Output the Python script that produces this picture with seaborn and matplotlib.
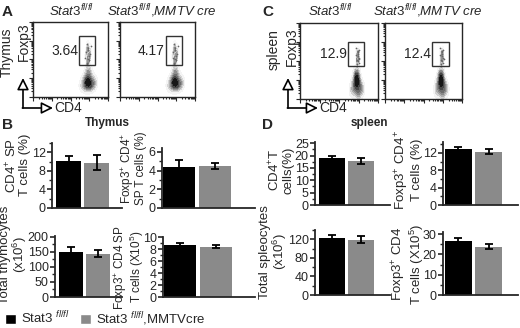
import numpy as np
import pandas as pd
import matplotlib
matplotlib.use("Agg")
import matplotlib.pyplot as plt
import seaborn as sns
from matplotlib.patches import Rectangle, Patch
from matplotlib.ticker import AutoMinorLocator

# ---- data ----
genotypes = ["Stat3 fl/fl", "Stat3 fl/fl,MMTVcre"]

# thymus (panel B)
thy_cd4_pct = [10.2, 9.8]
thy_cd4_pct_err = [1.1, 1.7]
thy_treg_pct = [4.4, 4.5]
thy_treg_pct_err = [0.7, 0.3]
thy_total = [150, 144]
thy_total_err = [17, 13]
thy_treg_num = [8.6, 8.4]
thy_treg_num_err = [0.4, 0.3]

# spleen (panel D)
spl_cd4_pct = [18.9, 17.8]
spl_cd4_pct_err = [0.8, 1.1]
spl_treg_pct = [12.9, 12.3]
spl_treg_pct_err = [0.4, 0.5]
spl_total = [122, 119]
spl_total_err = [7, 8]
spl_treg_num = [26.5, 23.7]
spl_treg_num_err = [1.5, 1.3]

# flow plots (panels A, C): gate frequencies and rough event clouds (log10 units)
thy_gate_freq = ["3.64", "4.17"]
spl_gate_freq = ["12.9", "12.4"]

thy_main_x = [2.6, 2.75, 2.9, 3.05, 3.2, 3.3, 2.7, 2.85, 2.95, 3.1, 3.25, 2.8,
              2.95, 3.1, 2.9, 3.0, 2.95, 2.85, 3.05, 2.95]
thy_main_y = [0.6, 0.5, 0.45, 0.5, 0.55, 0.7, 0.85, 0.8, 0.75, 0.8, 0.9, 1.05,
              1.0, 1.1, 1.3, 1.35, 1.55, 0.65, 0.6, 0.9]
thy_treg_x = [2.9, 2.95, 3.0, 2.85, 2.95, 3.05, 2.9, 2.8, 3.0, 2.92, 3.08, 2.88]
thy_treg_y = [1.8, 2.0, 2.2, 2.4, 2.6, 2.3, 2.85, 2.1, 1.95, 2.5, 2.7, 1.75]

spl_main_x = [2.65, 2.8, 2.95, 3.1, 3.2, 2.7, 2.85, 3.0, 3.15, 2.75, 2.9, 3.05,
              2.85, 3.0, 2.9, 2.95, 3.0, 2.9, 2.95, 2.85]
spl_main_y = [0.4, 0.35, 0.3, 0.4, 0.5, 0.65, 0.6, 0.6, 0.7, 0.9, 0.85, 0.9,
              1.1, 1.15, 1.35, 1.5, 0.2, 0.75, 1.0, 1.25]
spl_treg_x = [2.9, 2.95, 3.0, 2.88, 2.97, 3.03, 2.92, 2.95, 3.0, 2.85, 2.95, 2.98,
              3.05, 2.9]
spl_treg_y = [1.85, 2.0, 2.15, 2.3, 2.45, 2.6, 2.05, 2.25, 1.9, 2.7, 2.5, 2.35,
              2.1, 1.75]

BLACK = "#000000"
GRAY = "#8a8a8a"
W, H = 520, 328

sns.set_style("ticks")
plt.rcParams["font.family"] = ["Liberation Sans", "DejaVu Sans"]
plt.rcParams["mathtext.fontset"] = "custom"
plt.rcParams["mathtext.rm"] = "Liberation Sans"
plt.rcParams["mathtext.it"] = "Liberation Sans:italic"
plt.rcParams["mathtext.bf"] = "Liberation Sans:bold"


def px_rect(x0, y0, x1, y1):
    return [x0 / W, 1 - y1 / H, (x1 - x0) / W, (y1 - y0) / H]


def flow_plot(fig, rect, main_x, main_y, treg_x, treg_y, gate, freq, freq_x):
    ax = fig.add_axes(rect)
    sns.kdeplot(x=main_x, y=main_y, fill=True, cmap="Greys", levels=8,
                thresh=0.05, bw_adjust=1.0, ax=ax)
    sns.kdeplot(x=treg_x, y=treg_y, fill=True, cmap="Greys", levels=5,
                thresh=0.2, bw_adjust=1.0, alpha=0.35, ax=ax)
    sns.scatterplot(x=treg_x, y=treg_y, s=1.5, color="#666666", linewidth=0, ax=ax)
    ax.add_patch(Rectangle((gate[0], gate[1]), gate[2], gate[3],
                           fill=False, ec="#333333", lw=1))
    ax.text(freq_x, gate[1] + gate[3] / 2, freq, ha="right", va="center", fontsize=10)
    ax.set_xlim(0, 4)
    ax.set_ylim(0, 4)
    minors = [d + np.log10(m) for d in range(4) for m in range(2, 10)]
    ax.set_xticks(range(5))
    ax.set_yticks(range(5))
    ax.set_xticks(minors, minor=True)
    ax.set_yticks(minors, minor=True)
    ax.tick_params(which="both", direction="out", labelbottom=False, labelleft=False,
                   width=0.8)
    ax.tick_params(which="major", length=3)
    ax.tick_params(which="minor", length=1.5)
    ax.set_xlabel("")
    ax.set_ylabel("")
    for s in ax.spines.values():
        s.set_linewidth(1)
    return ax


def bar_plot(fig, rect, values, errs, ylim, yticks, xlim):
    ax = fig.add_axes(rect)
    df = pd.DataFrame({"genotype": genotypes, "value": values})
    sns.barplot(data=df, x="genotype", y="value", hue="genotype",
                palette=[BLACK, GRAY], width=0.9, errorbar=None,
                legend=False, linewidth=0, ax=ax)
    ax.errorbar(x=[0, 1], y=values, yerr=errs, fmt="none", ecolor="black",
                elinewidth=1.3, capsize=3, capthick=1.3)
    sns.despine(ax=ax)
    ax.set_xlim(*xlim)
    ax.set_ylim(*ylim)
    ax.set_yticks(yticks)
    ax.yaxis.set_minor_locator(AutoMinorLocator(2))
    ax.set_xticks([])
    ax.set_xlabel("")
    ax.set_ylabel("")
    ax.tick_params(axis="y", which="major", length=3.5, width=1.2, pad=1, labelsize=9)
    ax.tick_params(axis="y", which="minor", length=2, width=1)
    ax.spines["left"].set_linewidth(1.3)
    ax.spines["bottom"].set_linewidth(1.3)
    return ax


fig = plt.figure(figsize=(W / 100, H / 100), dpi=100)

# ---- A / C: flow plots ----
thy_gate = (2.45, 1.7, 0.85, 1.55)
spl_gate = (2.45, 1.75, 0.85, 1.25)
flow_plot(fig, px_rect(33, 22, 108, 97), thy_main_x, thy_main_y, thy_treg_x, thy_treg_y,
          thy_gate, thy_gate_freq[0], 2.4)
flow_plot(fig, px_rect(120, 22, 195, 97), thy_main_x, thy_main_y, thy_treg_x, thy_treg_y,
          thy_gate, thy_gate_freq[1], 2.4)
flow_plot(fig, px_rect(300, 23, 378, 99), spl_main_x, spl_main_y, spl_treg_x, spl_treg_y,
          spl_gate, spl_gate_freq[0], 2.4)
flow_plot(fig, px_rect(385, 23, 462, 99), spl_main_x, spl_main_y, spl_treg_x, spl_treg_y,
          spl_gate, spl_gate_freq[1], 2.4)

# ---- B: thymus bars ----
xl_left = (-0.6, 1.9)
xl_right = (-0.47, 2.1)
bar_plot(fig, px_rect(52, 143, 122, 208), thy_cd4_pct, thy_cd4_pct_err, (0, 14),
         [0, 4, 8, 12], xl_left)
bar_plot(fig, px_rect(162, 148, 255, 208), thy_treg_pct, thy_treg_pct_err, (0, 6.4),
         [0, 2, 4, 6], xl_right)
bar_plot(fig, px_rect(55, 236, 122, 297), thy_total, thy_total_err, (0, 202),
         [0, 50, 100, 150, 200], xl_left)
bar_plot(fig, px_rect(163, 237, 255, 297), thy_treg_num, thy_treg_num_err, (0, 10),
         [0, 2, 4, 6, 8, 10], xl_right)

# ---- D: spleen bars ----
bar_plot(fig, px_rect(315, 142, 390, 205), spl_cd4_pct, spl_cd4_pct_err, (0, 25.5),
         [0, 5, 10, 15, 20, 25], (-0.6, 2.0))
bar_plot(fig, px_rect(443, 142, 518, 205), spl_treg_pct, spl_treg_pct_err, (0, 14.5),
         [0, 4, 8, 12], (-0.5, 1.97))
bar_plot(fig, px_rect(315, 230, 390, 295), spl_total, spl_total_err, (0, 140),
         [0, 40, 80, 120], (-0.6, 2.0))
bar_plot(fig, px_rect(443, 232, 518, 295), spl_treg_num, spl_treg_num_err, (0, 31),
         [0, 10, 20, 30], (-0.5, 1.97))

# ---- annotations in pixel coordinates ----
ov = fig.add_axes([0, 0, 1, 1])
ov.set_xlim(0, W)
ov.set_ylim(H, 0)
ov.axis("off")

for lab, x, y in [("A", 2, 12), ("B", 2, 125), ("C", 262, 12), ("D", 262, 125)]:
    ov.text(x, y, lab, fontsize=11, fontweight="bold", va="center", ha="left")

title_a = r"$\mathit{Stat3}^{\mathit{fl/fl}}$"
title_b = r"$\mathit{Stat3}^{\mathit{fl/fl}}\mathit{{,}MMTV\ cre}$"
ov.text(72, 11, title_a, ha="center", va="center", fontsize=9.5)
ov.text(162, 11, title_b, ha="center", va="center", fontsize=9.5)
ov.text(331, 11, title_a, ha="center", va="center", fontsize=9.5)
ov.text(428, 11, title_b, ha="center", va="center", fontsize=9.5)

ov.text(7, 52, "Thymus", rotation=90, ha="center", va="center", fontsize=10)
ov.text(24, 42, "Foxp3", rotation=90, ha="center", va="center", fontsize=10)
ov.text(274, 50, "spleen", rotation=90, ha="center", va="center", fontsize=10)
ov.text(292, 47, "Foxp3", rotation=90, ha="center", va="center", fontsize=10)

for x0 in (23, 288):
    ov.annotate("", xy=(x0, 78), xytext=(x0, 108),
                arrowprops=dict(arrowstyle="-|>,head_length=0.7,head_width=0.35",
                                fc="white", ec="black", lw=1.2, shrinkA=0, shrinkB=0))
    ov.annotate("", xy=(x0 + 30, 108), xytext=(x0 - 0.6, 108),
                arrowprops=dict(arrowstyle="-|>,head_length=0.7,head_width=0.35",
                                fc="white", ec="black", lw=1.2, shrinkA=0, shrinkB=0))
    ov.text(x0 + 31, 108, "CD4", ha="left", va="center", fontsize=10)

ov.text(107, 123, "Thymus", ha="center", va="center", fontsize=8.5, fontweight="bold")
ov.text(369, 123, "spleen", ha="center", va="center", fontsize=8.5, fontweight="bold")

# bar y-axis labels
ylabels = [
    ("CD4$^{+}$ SP\nT cells (%)", 18, 165, 9.5),
    ("Foxp3$^{+}$ CD4$^{+}$\nSP T cells (%)", 133, 168, 8.5),
    ("Total thymocytes\n(x10$^{6}$)", 14, 255, 9.5),
    ("Foxp3$^{+}$ CD4 SP\nT cells (X10$^{5}$)", 129, 267, 8.5),
    ("CD4$^{+}$T\ncells(%)", 281, 170, 9.5),
    ("Foxp3$^{+}$ CD4$^{+}$\nT cells (%)", 408, 170, 9.5),
    ("Total spleocytes\n(x10$^{6}$)", 274, 252, 9.5),
    ("Foxp3$^{+}$ CD4\nT cells (X10$^{5}$)", 408, 264, 9.5),
]
for txt, x, y, fs in ylabels:
    ov.text(x, y, txt, rotation=90, ha="center", va="center", fontsize=fs,
            multialignment="center", linespacing=0.95)

fig.legend(handles=[Patch(fc=BLACK), Patch(fc=GRAY)],
           labels=["Stat3 $^{fl/fl}$", "Stat3 $^{fl/fl}$,MMTVcre"],
           loc="center left", bbox_to_anchor=(-0.008, 1 - 319 / H), ncol=2,
           frameon=False, fontsize=9.5, handlelength=0.8, handleheight=0.8,
           handletextpad=0.4, columnspacing=0.8, borderpad=0.2)

fig.savefig("out.png", dpi=100)
